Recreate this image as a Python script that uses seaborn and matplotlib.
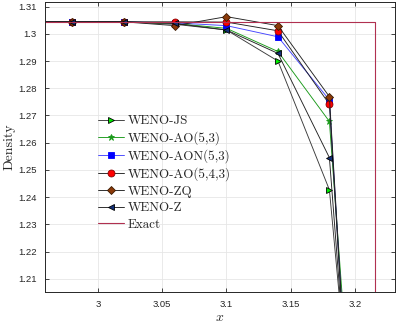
import matplotlib
matplotlib.use("Agg")
import matplotlib.pyplot as plt
from matplotlib.ticker import FuncFormatter, MultipleLocator
import seaborn as sns

#================================
# DATA
#================================
x_cells = [2.94, 2.98, 3.02, 3.06, 3.10, 3.14, 3.18, 3.22]

rho_js = [1.3044, 1.3044, 1.3044, 1.3035, 1.3014, 1.2900, 1.2427, 1.040]
rho_ao53 = [1.3044, 1.3044, 1.3044, 1.3038, 1.3020, 1.2935, 1.2678, 1.010]
rho_aon53 = [1.3044, 1.3044, 1.3044, 1.3040, 1.3030, 1.2989, 1.2757, 0.960]
rho_ao543 = [1.3044, 1.3044, 1.3044, 1.3044, 1.3043, 1.3011, 1.2741, 0.960]
rho_zq = [1.3044, 1.3044, 1.3044, 1.3030, 1.3063, 1.3030, 1.2769, 0.960]
rho_z = [1.3044, 1.3044, 1.3044, 1.3038, 1.3014, 1.2928, 1.2545, 1.010]

x_exact = [2.90, 3.2153, 3.2153, 3.30]
rho_exact = [1.3043, 1.3043, 0.90, 0.90]

#================================
# STYLE
#================================
sns.set_theme(style="whitegrid")
plt.rcParams["font.family"] = ["Liberation Sans", "DejaVu Sans"]
plt.rcParams["mathtext.fontset"] = "cm"

fig = plt.figure(figsize=(3.99, 3.24), dpi=100)
ax = fig.add_axes([0.113, 0.099, 0.877, 0.895])

series = [
    ("WENO-JS", rho_js, dict(color="#3a3a3a", marker=">", markerfacecolor="#00ee00", markeredgecolor="black")),
    ("WENO-AO(5,3)", rho_ao53, dict(color="#1a9a1a", marker="*", markerfacecolor="#1a9a1a", markeredgecolor="#1a9a1a")),
    ("WENO-AON(5,3)", rho_aon53, dict(color="#4444ff", marker="s", markerfacecolor="#0000ff", markeredgecolor="#0000ff")),
    ("WENO-AO(5,4,3)", rho_ao543, dict(color="#222222", marker="o", markerfacecolor="#ff0000", markeredgecolor="#880000")),
    ("WENO-ZQ", rho_zq, dict(color="#222222", marker="D", markerfacecolor="#8b3a0a", markeredgecolor="#3a1a00")),
    ("WENO-Z", rho_z, dict(color="#222222", marker="<", markerfacecolor="#14307a", markeredgecolor="black")),
]

for name, vals, kw in series:
    if kw["marker"] == "D":
        ms = 4.0
    elif kw["marker"] == "s":
        ms = 4.4
    else:
        ms = 5.0
    sns.lineplot(x=x_cells, y=vals, ax=ax, label=name, sort=False, estimator=None,
                 linewidth=0.65, markersize=ms, markeredgewidth=0.6, **kw)

sns.lineplot(x=x_exact, y=rho_exact, ax=ax, label="Exact", sort=False, estimator=None,
             color="#b03050", linewidth=0.8)

#================================
# AXES
#================================
ax.set_xlim(2.959, 3.231)
ax.set_ylim(1.2052, 1.3117)
ax.xaxis.set_major_locator(MultipleLocator(0.05))
ax.yaxis.set_major_locator(MultipleLocator(0.01))
ax.xaxis.set_major_formatter(FuncFormatter(lambda v, p: "%g" % round(v, 4)))
ax.yaxis.set_major_formatter(FuncFormatter(lambda v, p: "%g" % round(v, 4)))
ax.tick_params(direction="in", length=3, width=0.6, labelsize=6.8, colors="#262626",
               top=True, right=True, bottom=True, left=True, pad=6)
ax.grid(True, color="#e6e6e6", linewidth=0.6)
for s in ax.spines.values():
    s.set_color("#262626")
    s.set_linewidth(0.7)
ax.set_facecolor("white")

ax.set_xlabel(r"$x$", fontsize=10)
ax.xaxis.set_label_coords(0.5, -0.062)
ax.set_ylabel("Density", fontsize=10, family="cmr10", labelpad=2)

ax.legend(loc="upper left", bbox_to_anchor=(0.151, 0.61), frameon=False,
          prop={"family": "cmr10", "size": 9.4}, borderpad=0, borderaxespad=0,
          handlelength=2.0, handletextpad=0.3, labelspacing=0.33)

fig.savefig("out.png", dpi=100)
